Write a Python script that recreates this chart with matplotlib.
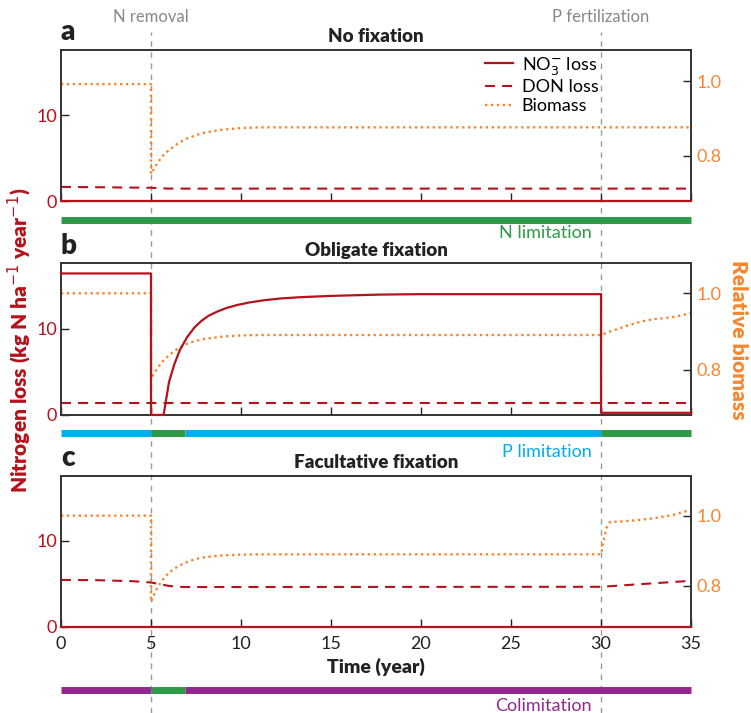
import matplotlib
matplotlib.use("Agg")
import matplotlib.pyplot as plt
import matplotlib.transforms as mtransforms
from matplotlib.lines import Line2D

plt.rcParams['font.family'] = ['Lato', 'DejaVu Sans']

RED = '#B5121B'
ORANGE = '#F7862F'
GREEN = '#2E9A47'
BLUE = '#00AEEF'
PURPLE = '#92278F'
GRAY = '#9A9A9A'

# ---- data ----
years = [0, 5, 10, 15, 20, 25, 30, 35]
events = [5, 30]
event_labels = ['N removal', 'P fertilization']
titles = ['No fixation', 'Obligate fixation', 'Facultative fixation']
panel_letters = ['a', 'b', 'c']

# panel a
no3_a_t = [0, 35]
no3_a = [0, 0]
don_a_t = [0, 5, 6, 35]
don_a = [1.65, 1.55, 1.45, 1.45]
bio_a_t = [0, 5, 5, 5.3, 5.6, 6.0, 6.5, 7.0, 7.5, 8.0, 9.0, 10.0, 11.0, 35]
bio_a = [0.992, 0.992, 0.751, 0.775, 0.797, 0.815, 0.833, 0.846, 0.855, 0.862, 0.870, 0.874, 0.876, 0.876]

# panel b
no3_b_t = [0, 5, 5, 5.7, 6.0, 6.3, 6.6, 7.0, 7.4, 7.8, 8.2, 8.7, 9.2, 9.8, 10.5, 11.3, 12.2, 13.3, 15, 17.7, 20, 30, 30, 35]
no3_b = [16.4, 16.4, 0, 0, 3.8, 5.9, 7.5, 9.0, 10.1, 10.9, 11.5, 12.0, 12.4, 12.75, 13.05, 13.3, 13.5, 13.65, 13.8, 13.95, 14.0, 14.0, 0.25, 0.25]
don_b_t = [0, 35]
don_b = [1.35, 1.35]
bio_b_t = [0, 5, 5, 5.3, 5.6, 6.0, 6.5, 7.0, 7.5, 8.0, 9.0, 10.0, 11.0, 30, 30.5, 31, 31.5, 32, 32.5, 33, 33.5, 34, 34.5, 35]
bio_b = [1.0, 1.0, 0.778, 0.80, 0.82, 0.838, 0.856, 0.868, 0.876, 0.881, 0.887, 0.89, 0.891, 0.891, 0.90, 0.908, 0.916, 0.923, 0.929, 0.933, 0.935, 0.938, 0.943, 0.948]

# panel c
no3_c_t = [0, 35]
no3_c = [0, 0]
don_c_t = [0, 2, 4, 5, 5.5, 6, 6.5, 7, 30, 31, 32, 33, 34, 35]
don_c = [5.45, 5.42, 5.3, 5.15, 4.95, 4.75, 4.65, 4.62, 4.65, 4.79, 4.93, 5.07, 5.21, 5.35]
bio_c_t = [0, 5, 5, 5.3, 5.6, 6.0, 6.5, 7.0, 7.5, 8.0, 9.0, 10.0, 11.0, 30, 30.15, 30.3, 30.5, 31, 32, 33, 34, 35]
bio_c = [1.0, 1.0, 0.755, 0.79, 0.815, 0.838, 0.856, 0.868, 0.877, 0.882, 0.887, 0.889, 0.89, 0.89, 0.93, 0.965, 0.982, 0.983, 0.987, 0.993, 1.002, 1.017]

# limitation bars: (start, end, colour)
lim_a = [(0, 35, GREEN)]
lim_b = [(0, 5, BLUE), (5, 6.9, GREEN), (6.9, 30, BLUE), (30, 35, GREEN)]
lim_c = [(0, 5, PURPLE), (5, 6.9, GREEN), (6.9, 35, PURPLE)]
lim_text = [('N limitation', GREEN), ('P limitation', BLUE), ('Colimitation', PURPLE)]

right_lims = [(0.678, 1.084), (0.682, 1.079), (0.684, 1.114)]

panels = [
    (no3_a_t, no3_a, don_a_t, don_a, bio_a_t, bio_a, lim_a),
    (no3_b_t, no3_b, don_b_t, don_b, bio_b_t, bio_b, lim_b),
    (no3_c_t, no3_c, don_c_t, don_c, bio_c_t, bio_c, lim_c),
]

# ---- layout (figure fractions) ----
fig = plt.figure(figsize=(7.51, 7.13), dpi=100)
boxes = [(0.0812, 0.718, 0.839, 0.212),
         (0.0812, 0.418, 0.839, 0.213),
         (0.0812, 0.121, 0.839, 0.212)]
bar_y = [-0.126, -0.116, -0.419]
text_y = [-0.21, -0.245, -0.525]

axes = []
for i, (box, data) in enumerate(zip(boxes, panels)):
    no3_t, no3, don_t, don, bio_t, bio, lims = data
    ax = fig.add_axes(box)
    ax2 = ax.twinx()
    axes.append(ax)

    ax.plot(no3_t, no3, color=RED, lw=1.6, clip_on=False, zorder=5, label='NO$_3^{-}$ loss')
    ax.plot(don_t, don, color=RED, lw=1.5, dashes=(4.8, 3.4), label='DON loss')
    ax2.plot(bio_t, bio, color=ORANGE, lw=1.7, linestyle=(0, (1, 1.5)), label='Biomass')

    ax.set_xlim(0, 35)
    ax.set_ylim(0, 17.6)
    ax2.set_ylim(*right_lims[i])

    ax.set_xticks(years)
    ax.set_yticks([0, 10])
    ax2.set_yticks([0.8, 1.0])
    ax2.set_yticklabels(['0.8', '1.0'])
    ax.tick_params(axis='both', direction='in', length=6, width=1, color='#222', labelsize=13)
    ax.tick_params(axis='y', labelcolor=RED, pad=3)
    ax.tick_params(axis='x', labelcolor='#222', pad=7)
    ax2.tick_params(axis='y', direction='in', length=6, width=1, color='#222', labelsize=13,
                    labelcolor=ORANGE, pad=4)
    if i < 2:
        ax.tick_params(axis='x', labelbottom=False)

    for a in (ax, ax2):
        for s in a.spines.values():
            s.set_color('#333')
            s.set_linewidth(1.2)
    ax.set_zorder(ax2.get_zorder() + 1)
    ax.patch.set_visible(False)

    ax.text(0.0, 1.03, panel_letters[i], transform=ax.transAxes, fontsize=20,
            fontweight='heavy', ha='left', va='bottom', color='#222')
    ax.text(0.5, 1.03, titles[i], transform=ax.transAxes, fontsize=13.5,
            fontweight='heavy', ha='center', va='bottom', color='#222')

    # limitation bar below the panel
    trans = mtransforms.blended_transform_factory(ax.transData, ax.transAxes)
    for x0, x1, col in lims:
        ax.plot([x0, x1], [bar_y[i], bar_y[i]], color=col, lw=5, solid_capstyle='butt',
                transform=trans, clip_on=False)
    ax.text(29.5, text_y[i], lim_text[i][0], color=lim_text[i][1], fontsize=13,
            ha='right', va='center', transform=trans)

    if i == 0:
        h1, l1 = ax.get_legend_handles_labels()
        h2, l2 = ax2.get_legend_handles_labels()
        ax.legend(h1 + h2, l1 + l2, loc='upper right', bbox_to_anchor=(0.87, 1.04),
                  frameon=False, fontsize=13, handlelength=1.5, handletextpad=0.5,
                  labelspacing=0.15, borderaxespad=0.2)

axes[2].set_xlabel('Time (year)', fontsize=14, fontweight='heavy', color='#222', labelpad=4)

# event lines through all panels
ev_trans = mtransforms.blended_transform_factory(axes[2].transData, fig.transFigure)
for x, lab in zip(events, event_labels):
    fig.add_artist(Line2D([x, x], [0.0, 0.955], transform=ev_trans, color=GRAY,
                          lw=1, dashes=(4, 4), zorder=0))
    fig.text(x, 0.976, lab, transform=ev_trans, color='#888', fontsize=12,
             ha='center', va='center')

fig.text(0.027, 0.523, 'Nitrogen loss (kg N ha$^{-1}$ year$^{-1}$)', rotation=90,
         color=RED, fontsize=15, fontweight='heavy', ha='center', va='center')
fig.text(0.983, 0.523, 'Relative biomass', rotation=270, color=ORANGE, fontsize=15,
         fontweight='heavy', ha='center', va='center')

fig.savefig('out.png', dpi=100)
